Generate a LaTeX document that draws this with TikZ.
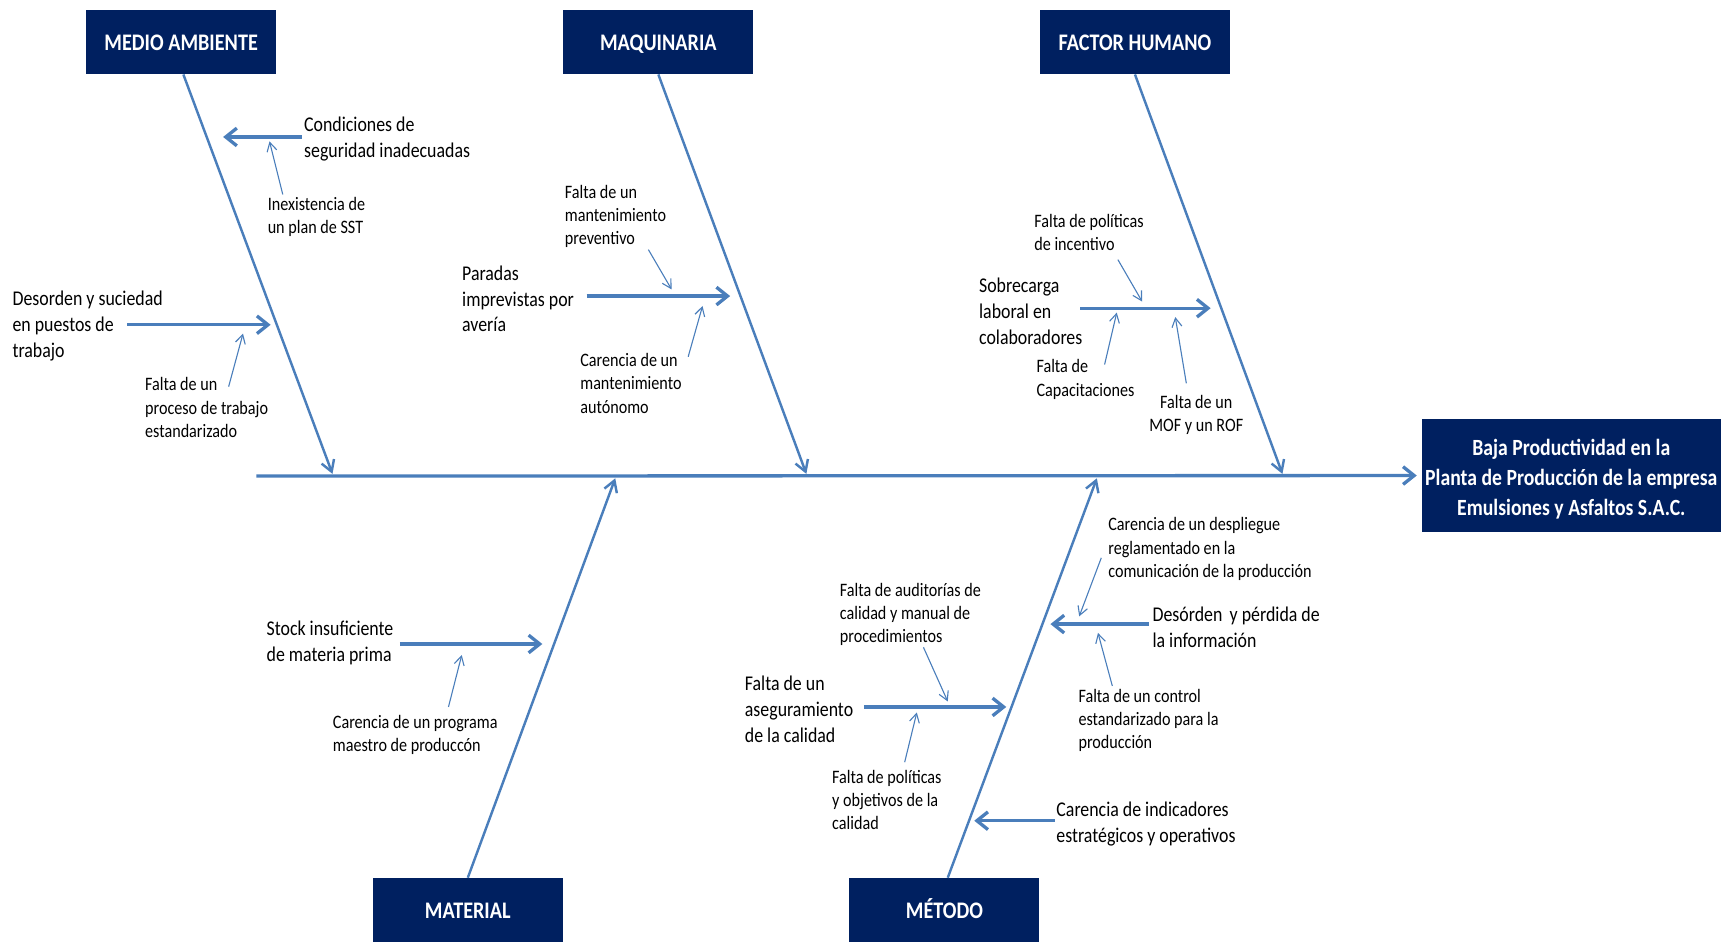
\documentclass[tikz,border=0pt]{standalone}
\usepackage{fontspec}
\setmainfont{Carlito}[FakeStretch=0.85]
\usetikzlibrary{arrows.meta}
\definecolor{navy}{HTML}{002060}
\definecolor{lineblue}{HTML}{4A7EBB}
\tikzset{
  cat/.style={fill=navy, text=white, font=\bfseries\fontsize{10.75}{13}\selectfont, minimum width=86pt, minimum height=29pt, inner sep=0pt, text height=7.6pt, text depth=0pt},
  midtext/.style={align=left, anchor=west, inner sep=0pt, yshift=-1pt, font=\fontsize{9.5}{11.75}\selectfont},
  smalltext/.style={align=left, anchor=west, inner sep=0pt, yshift=-1pt, font=\fontsize{8.6}{10.5}\selectfont},
  bone/.style={draw=lineblue, line width=1.1pt, -{Straight Barb[length=5pt,width=6pt]}},
  causearrow/.style={draw=lineblue, line width=1.5pt, -{Straight Barb[length=5pt,width=8pt]}},
  minorarrow/.style={draw=lineblue, line width=0.5pt, -{Straight Barb[length=4pt,width=4.5pt]}},
}
\begin{document}
\begin{tikzpicture}[x=0.5pt,y=-0.5pt]
\useasboundingbox (0,0) rectangle (1568,853);
% category boxes
\node[cat] (ma) at (164,38) {MEDIO AMBIENTE};
\node[cat] (maq) at (596,38) {MAQUINARIA};
\node[cat] (fh) at (1027.5,38) {FACTOR HUMANO};
\node[cat] (mat) at (423.5,824) {MATERIAL};
\node[cat] (met) at (855,824) {MÉTODO};
\node[fill=navy, minimum width=135.5pt, minimum height=51.5pt, inner sep=0pt] (res) at (1422.5,430.5) {};
\node[text=white, font=\bfseries\fontsize{10.5}{13.5}\selectfont, align=center, inner sep=0pt, yshift=-1.75pt] (restext) at (res.center) {Baja Productividad en la\\Planta de Producción de la empresa\\Emulsiones y Asfaltos S.A.C.};
% axis
\coordinate (ax0) at (232,431);
\draw[causearrow, shorten >=2pt] (ax0) -- (res.west);
% bones
\coordinate (b1) at (301,429);
\coordinate (b2) at (730,429);
\coordinate (b3) at (1161,429);
\coordinate (b4) at (557,433);
\coordinate (b5) at (993,433);
\draw[bone] ([xshift=1pt]ma.south) -- (b1);
\draw[bone] (maq.south) -- (b2);
\draw[bone] (fh.south) -- (b3);
\draw[bone] (mat.north) -- (b4);
\draw[bone] ([xshift=1.5pt]met.north) -- (b5);
% texts
\node[midtext] (cond) at (275,124) {Condiciones de\\seguridad inadecuadas};
\node[smalltext] (inex) at (242,194.5) {Inexistencia de\\un plan de SST};
\node[midtext] (deso) at (11,293) {Desorden y suciedad\\en puestos de\\trabajo};
\node[smalltext] (fpro) at (131,367) {Falta de un\\proceso de trabajo\\estandarizado};
\node[midtext] (para) at (418,268.5) {Paradas\\imprevistas por\\avería};
\node[smalltext] (fmp) at (511,194) {Falta de un\\mantenimiento\\preventivo};
\node[smalltext] (cma) at (525,345) {Carencia de un\\mantenimiento\\autónomo};
\node[smalltext] (fpi) at (936,208.5) {Falta de políticas\\de incentivo};
\node[midtext] (sob) at (886,280) {Sobrecarga\\laboral en\\colaboradores};
\node[smalltext] (fcap) at (938,341.5) {Falta de\\Capacitaciones};
\node[smalltext, align=center, anchor=center] (mof) at (1083,373.5) {Falta de un\\MOF y un ROF};
\node[midtext] (stock) at (241,580) {Stock insuficiente\\de materia prima};
\node[smalltext] (cpm) at (301,663.5) {Carencia de un programa\\maestro de produccón};
\node[smalltext] (faud) at (760,554.5) {Falta de auditorías de\\calidad y manual de\\procedimientos};
\node[midtext] (fase) at (674,640.5) {Falta de un\\aseguramiento\\de la calidad};
\node[smalltext] (fpol) at (753,722) {Falta de políticas\\y objetivos de la\\calidad};
\node[smalltext] (cdes) at (1003,495) {Carencia de un despliegue\\reglamentado en la\\comunicación de la producción};
\node[midtext] (desor) at (1043,566) {Desórden\hspace{0.35em}y pérdida de\\la información};
\node[smalltext] (fcon) at (976,650) {Falta de un control\\estandarizado para la\\producción};
\node[midtext] (cind) at (956,744) {Carencia de indicadores\\estratégicos y operativos};
% thick cause arrows
\coordinate (c1a) at (273,124); \coordinate (c1b) at (202,124);
\coordinate (c2a) at (115,294); \coordinate (c2b) at (245,294);
\coordinate (c3a) at (531,268); \coordinate (c3b) at (661,268);
\coordinate (c4a) at (978,279); \coordinate (c4b) at (1096,279);
\coordinate (c5a) at (362,583); \coordinate (c5b) at (491,583);
\coordinate (c6a) at (782,640); \coordinate (c6b) at (911,640);
\coordinate (c7a) at (1040,565); \coordinate (c7b) at (951,565);
\coordinate (c8a) at (955,743); \coordinate (c8b) at (882,743);
\foreach \i in {1,...,8} {\draw[causearrow] (c\i a) -- (c\i b);}
% thin arrows
\coordinate (t1a) at (256,176); \coordinate (t1b) at (244,128);
\coordinate (t2a) at (207,350); \coordinate (t2b) at (220,302);
\coordinate (t3a) at (587,226); \coordinate (t3b) at (608,262);
\coordinate (t4a) at (623,323); \coordinate (t4b) at (636,277);
\coordinate (t5a) at (1012,235); \coordinate (t5b) at (1034,273);
\coordinate (t6a) at (1000,330); \coordinate (t6b) at (1011,283);
\coordinate (t7a) at (1074,347); \coordinate (t7b) at (1064,287);
\coordinate (t8a) at (406,640); \coordinate (t8b) at (418,593);
\coordinate (t9a) at (836,586); \coordinate (t9b) at (858,635);
\coordinate (t10a) at (819,690); \coordinate (t10b) at (830,645);
\coordinate (t11a) at (997,505); \coordinate (t11b) at (977,558);
\coordinate (t12a) at (1007,621); \coordinate (t12b) at (994,573);
\foreach \i in {1,...,12} {\draw[minorarrow] (t\i a) -- (t\i b);}
\end{tikzpicture}
\end{document}
